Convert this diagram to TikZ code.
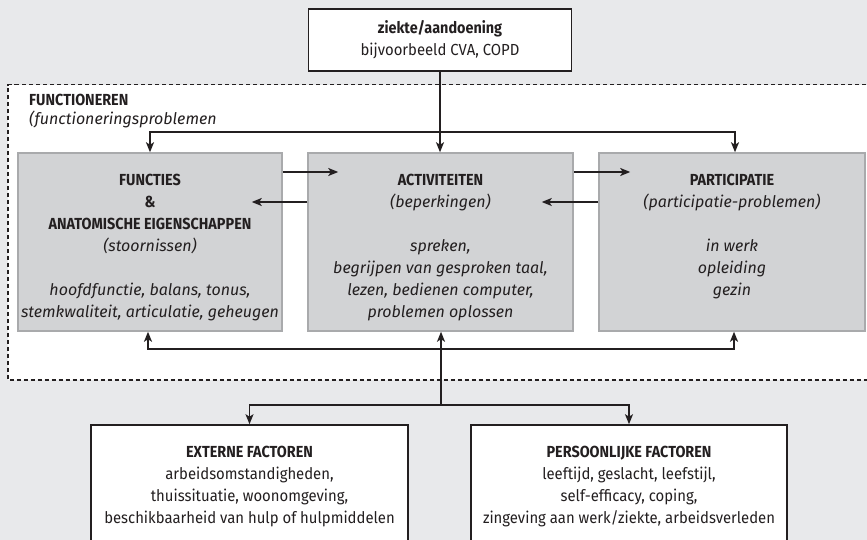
\documentclass[tikz,border=0pt]{standalone}
\usepackage{fontspec}
\setmainfont{Fira Sans}[UprightFeatures={FakeStretch=0.93},BoldFeatures={FakeStretch=0.9}]
\usetikzlibrary{positioning, arrows.meta, calc}
\definecolor{bgGrey}{HTML}{e8e9eb}
\definecolor{boxFill}{HTML}{d2d3d5}
\definecolor{boxLine}{HTML}{a9aaac}
\definecolor{ink}{HTML}{231f20}

\begin{document}
\begin{tikzpicture}[x=1pt, y=-1pt,
  wbox/.style={draw=ink, line width=1.6pt, fill=white, inner sep=0pt},
  gbox/.style={draw=boxLine, line width=1.5pt, fill=boxFill, minimum width=264pt, minimum height=178pt},
  txt/.style={align=center, inner sep=0pt, font=\fontsize{16}{22}\selectfont, text=ink},
  arr/.style={draw=ink, line width=1.6pt, -{Stealth[length=10pt, width=8pt, inset=2.5pt]}}]
\useasboundingbox (0,0) rectangle (867,540);
\clip (0,0) rectangle (867,540);
\fill[bgGrey] (0,0) rectangle (867,540);
% kader functioneren
\fill[white] (8,84.7) rectangle (880,380);
\draw[ink, line width=1.5pt, dash pattern=on 4.5pt off 2.5pt] (880,84.7) -- (8,84.7) -- (8,380) -- (880,380);
\node[wbox, txt, minimum width=263pt, minimum height=62pt] (ziekte) at (440,40) {\textbf{ziekte/aandoening}\\bijvoorbeeld CVA, COPD};
\node[txt, anchor=north west, align=left, font=\fontsize{16}{19}\selectfont] (fnc) at (29,94) {\textbf{FUNCTIONEREN}\\\textit{(functioneringsproblemen}};
\node[gbox] (fun) at (150,242) {};
\node[gbox, minimum width=265pt] (act) at (440.5,242) {};
\node[gbox, minimum width=266pt] (par) at (732,242) {};
\node[txt, below=21.5pt of fun.north] (funtxt) {\textbf{FUNCTIES}\\\textbf{\&}\\\textbf{ANATOMISCHE EIGENSCHAPPEN}\\\textit{(stoornissen)}\\[22pt]\textit{hoofdfunctie, balans, tonus,}\\\textit{stemkwaliteit, articulatie, geheugen}};
\node[txt, below=21.5pt of act.north] (acttxt) {\textbf{ACTIVITEITEN}\\\textit{(beperkingen)}\\[22pt]\textit{spreken,}\\\textit{begrijpen van gesproken taal,}\\\textit{lezen, bedienen computer,}\\\textit{problemen oplossen}};
\node[txt, below=21.5pt of par.north] (partxt) {\textbf{PARTICIPATIE}\\\textit{(participatie-problemen)}\\[22pt]\textit{in werk}\\\textit{opleiding}\\\textit{gezin}};
\node[wbox, minimum width=317pt, minimum height=140pt] (ext) at (249.5,495) {};
\node[wbox, minimum width=316pt, minimum height=140pt] (pers) at (629,495) {};
\node[txt, below=21.3pt of ext.north] (exttxt) {\textbf{EXTERNE FACTOREN}\\arbeidsomstandigheden,\\thuissituatie, woonomgeving,\\beschikbaarheid van hulp of hulpmiddelen};
\node[txt, below=21.3pt of pers.north] (perstxt) {\textbf{PERSOONLIJKE FACTOREN}\\leeftijd, geslacht, leefstijl,\\self-efficacy, coping,\\zingeving aan werk/ziekte, arbeidsverleden};
% verbindingen boven
\coordinate (split) at (440,132);
\draw[arr] (ziekte.south) -- (ziekte.south |- act.north);
\draw[arr] (split) -| (fun.north);
\draw[arr] (split) -| ([xshift=3pt]par.north);
\draw[arr] ([yshift=70pt]fun.east) -- ([xshift=31pt, yshift=70pt]act.west);
\draw[arr] ([yshift=40pt]act.west) -- ([xshift=-31pt, yshift=40pt]fun.east);
\draw[arr] ([yshift=70pt]act.east) -- ([xshift=32pt, yshift=70pt]par.west);
\draw[arr] ([yshift=40pt]par.west) -- ([xshift=-32pt, yshift=40pt]act.east);
% verbindingen onder
\coordinate (mid) at (441,349);
\coordinate (join) at (441,405);
\draw[arr] (join) -- (join |- act.south);
\draw[arr] (mid) -| ([xshift=-2pt]fun.south);
\draw[arr] (mid) -| ([xshift=2pt]par.south);
\draw[arr] (join) -| (ext.north);
\draw[arr] (join) -| (pers.north);
\end{tikzpicture}
\end{document}
